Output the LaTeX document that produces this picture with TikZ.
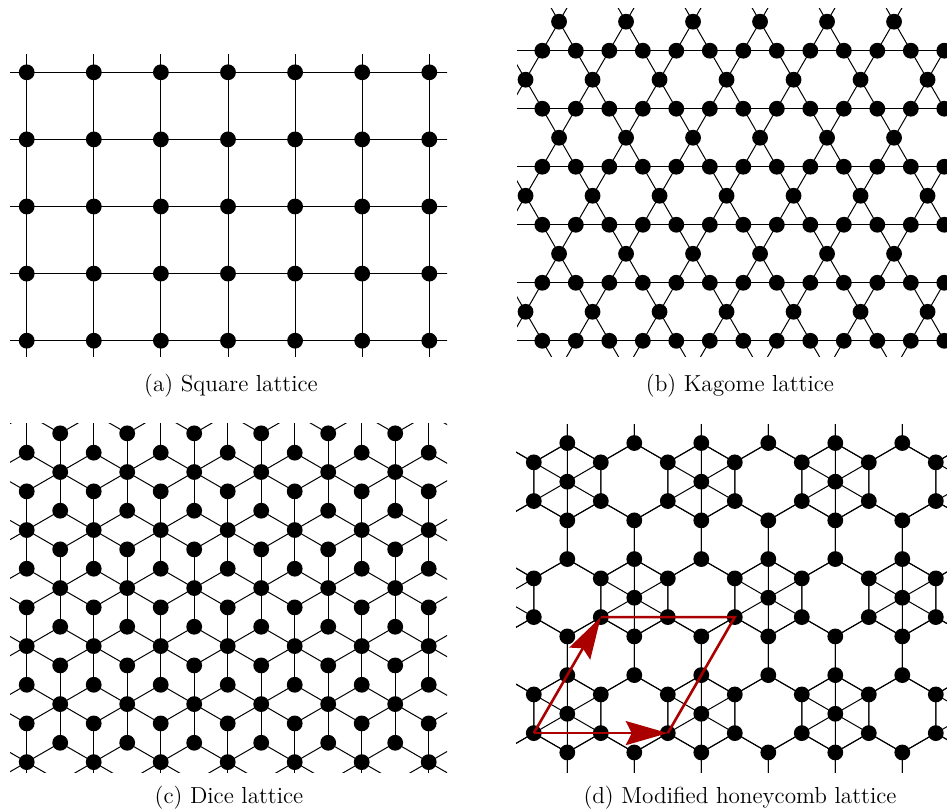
\documentclass[tikz,border=0pt]{standalone}
\definecolor{cellred}{RGB}{170, 0, 0}
\usepackage{tikz}
\usetikzlibrary{arrows.meta}
\newcommand{\latsite}[1]{\fill (#1) circle[radius=3.95pt];}

\begin{document}
\begin{tikzpicture}[x=0.5pt, y=-0.5pt,
    bond/.style={line width=0.5pt},
    cell/.style={draw=cellred, line width=1.3pt},
    cellvec/.style={cell, -{Stealth[length=21pt, width=12pt, inset=3pt]}},
    caption/.style={anchor=base, font=\fontsize{11.6pt}{13pt}\selectfont}
  ]
  \useasboundingbox (0,0) rectangle (947,812);

  % (a) square
  \begin{scope}
    \clip (10,55) rectangle (447,357);
    \foreach \j in {0,...,4} \draw[bond] (0,72.3+67.1*\j) -- (460,72.3+67.1*\j);
    \foreach \i in {0,...,6} \draw[bond] (26.7+67.1*\i,40) -- (26.7+67.1*\i,370);
    \foreach \i in {0,...,6} \foreach \j in {0,...,4} {\latsite{26.7+67.1*\i,72.3+67.1*\j}}
  \end{scope}
  \node[caption] (capa) at (231,391.5) {(a) Square lattice};

  % (b) kagome
  \begin{scope}
    \clip (517,9) rectangle (960,357);
    \foreach \k in {0,...,5} \draw[bond] (500,50.7+58.02*\k) -- (970,50.7+58.02*\k);
    \foreach \m in {-2,...,10} \draw[bond] (542.3+67*\m-180,362.5) -- (542.3+67*\m+30,-1.3);
    \foreach \m in {-4,...,7} \draw[bond] (575.8+67*\m-30,-1.3) -- (575.8+67*\m+180,362.5);
    \foreach \k in {0,...,5} \foreach \n in {-1,...,13} {\latsite{542.3+33.5*\n,50.7+58.02*\k}}
    \foreach \j in {0,...,5} \foreach \n in {-1,...,7} {
      \pgfmathsetmacro\mx{559.05-33.5*mod(\j,2)+67*\n}
      \latsite{\mx,21.69+58.02*\j}
    }
  \end{scope}
  \node[caption] (capb) at (740,391.5) {(b) Kagome lattice};

  % (c) dice
  \begin{scope}
    \clip (10,423) rectangle (447,772);
    \foreach \j in {0,...,7} \foreach \i in {-1,...,7} {
      \pgfmathsetmacro\hx{26.7+33.5*mod(\j,2)+67*\i}
      \pgfmathsetmacro\hy{414+58.02*\j}
      \foreach \a in {30,90,...,330} \draw[bond] (\hx,\hy) -- ++(\a:38.68);
      \latsite{\hx,\hy}
      \latsite{\hx,\hy-38.68}
      \latsite{\hx,\hy+38.68}
    }
  \end{scope}
  \node[caption] (capc) at (229,803.5) {(c) Dice lattice};

  % (d) modified honeycomb
  \begin{scope}
    \clip (516,424) rectangle (960,772);
    \foreach \j in {0,...,8} \foreach \i in {-2,...,7} {
      \pgfmathsetmacro\hx{567.3+33.5*mod(\j,2)+67*\i}
      \pgfmathsetmacro\hy{365.66+58.02*\j}
      \draw[bond] (\hx,\hy) +(90:38.68) -- +(30:38.68) -- +(-30:38.68) -- +(-90:38.68)
        -- +(-150:38.68) -- +(150:38.68) -- cycle;
      \latsite{\hx,\hy-38.68}
      \latsite{\hx,\hy+38.68}
    }
    \foreach \n in {-1,...,3} \foreach \m in {-2,...,3} {
      \pgfmathsetmacro\hx{567.3+134*\m+67*\n}
      \pgfmathsetmacro\hy{481.7+116.04*\n}
      \draw[bond] (\hx,\hy) +(90:38.68) -- +(-90:38.68) +(30:38.68) -- +(210:38.68)
        +(150:38.68) -- +(330:38.68);
      \latsite{\hx,\hy}
    }
  \end{scope}
  \coordinate (o) at (533.8,733.1);
  \coordinate (a1) at (667.8,733.1);
  \coordinate (a2) at (600.8,617.1);
  \coordinate (a12) at (734.8,617.1);
  \draw[cell] (a2) -- (a12) -- (a1);
  \draw[cellvec] (o) -- (a1);
  \draw[cellvec] (o) -- (a2);
  \node[caption] (capd) at (740,803.5) {(d) Modified honeycomb lattice};
\end{tikzpicture}
\end{document}
